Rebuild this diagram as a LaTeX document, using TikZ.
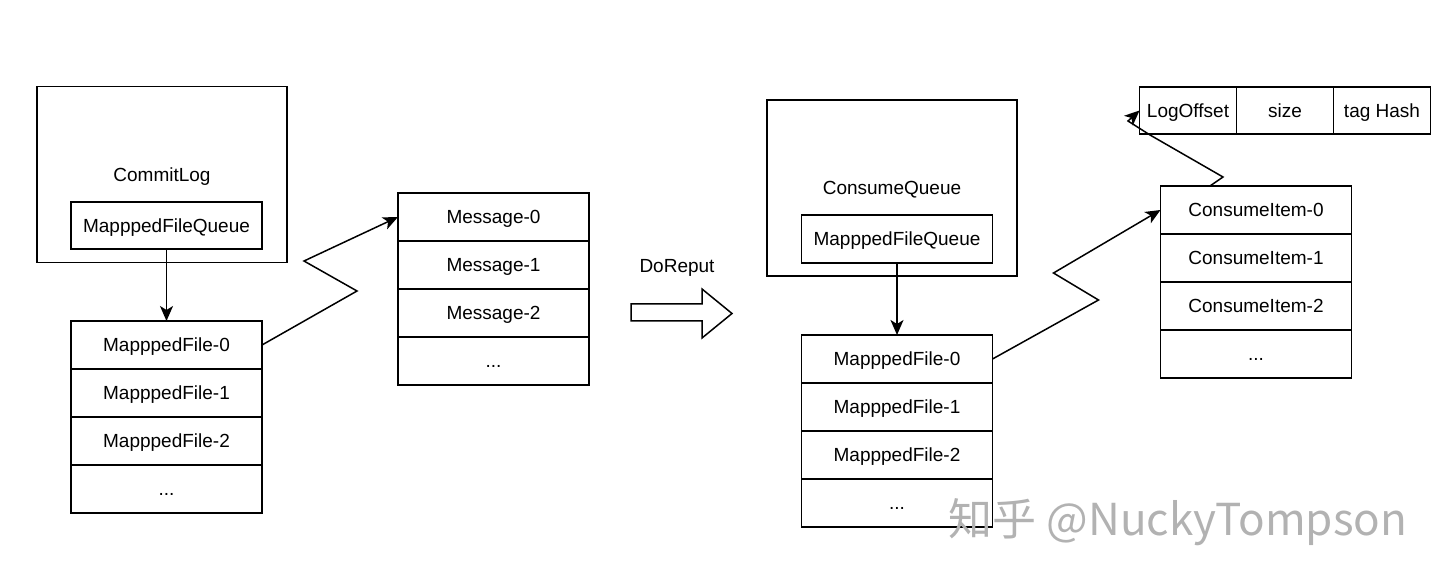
\documentclass[tikz,border=0pt]{standalone}
\usepackage{fontspec}
\setmainfont{Liberation Sans}
\newfontfamily\cjkfont{Noto Sans CJK SC}
\usepackage{tikz}
\usetikzlibrary{arrows, arrows.meta, shapes, positioning}
\tikzstyle{cell} = [draw=black, minimum width=95.5pt, minimum height=24pt, inner sep=0, outer sep=0,
                    text height=6.9pt, text depth=0pt]
\tikzstyle{field} = [cell, minimum width=48.5pt, minimum height=23.5pt]
\tikzstyle{store} = [draw=black, minimum width=125pt, minimum height=88pt, inner sep=0,
                    text height=6.9pt, text depth=0pt]
\tikzstyle{link} = [-{Stealth[length=7.5pt, width=6.5pt, inset=2pt]}]

\begin{document}
\begin{tikzpicture}[x=0.5pt, y=-0.5pt, line width=0.75pt, font=\fontsize{9.5}{11.5}\selectfont]
				\useasboundingbox (0, 0) rectangle (1440, 587);

				\node (CommitLog) [store] at (162, 174.5) {CommitLog};
				\node (CLQueue) [cell, minimum height=23.5pt] at (166.5, 225.5) {MapppedFileQueue};

				\node (CLFile0) [cell] at (166.5, 345) {MapppedFile-0};
				\node (CLFile1) [cell, below=0pt of CLFile0] {MapppedFile-1};
				\node (CLFile2) [cell, below=0pt of CLFile1] {MapppedFile-2};
				\node (CLFileN) [cell, below=0pt of CLFile2] {...};
				\draw [link] (CLQueue) -- (CLFile0);

				\node (Msg0) [cell] at (493.5, 217) {Message-0};
				\node (Msg1) [cell, below=0pt of Msg0] {Message-1};
				\node (Msg2) [cell, below=0pt of Msg1] {Message-2};
				\node (MsgN) [cell, below=0pt of Msg2] {...};
				\draw [link] (CLFile0.east) -- ++(95, -54) -- ++(-53, -30) -- (Msg0.west);

				\node (DoReput) [text height=6.9pt, text depth=0pt] at (677, 266) {DoReput};
				\draw (631, 304) -- (702, 304) -- (702, 289) -- (732, 313.5) -- (702, 338) -- (702, 321) -- (631, 321) -- cycle;

				\node (ConsumeQueue) [store] at (892, 188) {ConsumeQueue};
				\node (CQQueue) [cell] at (897, 239) {MapppedFileQueue};

				\node (CQFile0) [cell] at (897, 359) {MapppedFile-0};
				\node (CQFile1) [cell, below=0pt of CQFile0] {MapppedFile-1};
				\node (CQFile2) [cell, below=0pt of CQFile1] {MapppedFile-2};
				\node (CQFileN) [cell, below=0pt of CQFile2] {...};
				\draw [link] (CQQueue) -- (CQFile0);

				\node (Item0) [cell] at (1256, 210) {ConsumeItem-0};
				\node (Item1) [cell, below=0pt of Item0] {ConsumeItem-1};
				\node (Item2) [cell, below=0pt of Item1] {ConsumeItem-2};
				\node (ItemN) [cell, below=0pt of Item2] {...};
				\draw [link] (CQFile0.east) -- ++(106, -59) -- ++(-45, -27) -- (Item0.west);

				\node (LogOffset) [field] at (1188, 110.5) {LogOffset};
				\node (Size) [field, right=0pt of LogOffset] {size};
				\node (TagHash) [field, right=0pt of Size] {tag Hash};
				\coordinate (ItemTop) at (1210, 186);
				\draw [link] (ItemTop) -- ++(13, -9) -- ++(-73, -42) -- ++(-22, -14) -- (LogOffset.west);

				\node (Mark) [text=black!30, font=\fontsize{22}{26}\cjkfont] at (1178, 522) {知乎 @NuckyTompson};
			\end{tikzpicture}
\end{document}
